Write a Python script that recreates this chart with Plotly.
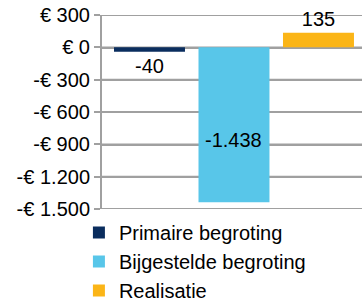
import plotly.graph_objects as go

series = ["Primaire begroting", "Bijgestelde begroting", "Realisatie"]
values = [-40, -1438, 135]
colors = ["#0a2d5e", "#58c6e9", "#fbb517"]
tick_vals = [300, 0, -300, -600, -900, -1200, -1500]
tick_text = ["€ 300", "€ 0", "-€ 300", "-€ 600", "-€ 900", "-€ 1.200", "-€ 1.500"]
y_range = [-1500, 300]
x_range = [-0.562, 2.515]

def fmt(v):
    s = f"{abs(v):,}".replace(",", ".")
    return ("-" if v < 0 else "") + s

FONT = "Liberation Sans, Arial, sans-serif"
GRID = "#a0a0a0"
GRID_T = 16  # gridline thickness in axis units (~1.7 px)

fig = go.Figure()
# gridlines at the major tick values, as thin full-width bars behind the data bars
fig.add_trace(go.Bar(
    x=[series[0]] * len(tick_vals), y=[GRID_T] * len(tick_vals),
    base=[tv - GRID_T / 2 for tv in tick_vals],
    offset=x_range[0], width=x_range[1] - x_range[0],
    marker=dict(color=GRID, line=dict(width=0)), showlegend=False,
    hoverinfo="skip", cliponaxis=False, name="grid",
))
for name, v, c in zip(series, values, colors):
    inside = abs(v) > 500
    fig.add_trace(go.Bar(
        x=[name], y=[v], name=name, marker=dict(color=c, line=dict(width=0)),
        text=[fmt(v)] if not inside else None,
        textposition="outside", cliponaxis=False,
        textfont=dict(size=20, color="black", family=FONT),
    ))
    if inside:
        fig.add_annotation(x=name, y=v / 2, yshift=-15, text=fmt(v), showarrow=False,
                           font=dict(size=20, color="black", family=FONT))

fig.update_layout(
    width=362, height=299,
    margin=dict(l=102, r=0, t=15, b=89.5, autoexpand=False),
    paper_bgcolor="white", plot_bgcolor="white",
    barmode="overlay", bargap=0.16,
    font=dict(family=FONT, size=20, color="black"),
    showlegend=True,
    legend=dict(xref="container", yref="container", x=0.218, y=1 - 213 / 299,
                xanchor="left", yanchor="top",
                font=dict(size=20, family=FONT), tracegroupgap=0,
                itemwidth=30, bgcolor="rgba(0,0,0,0)"),
    xaxis=dict(range=x_range, showticklabels=False, showgrid=False,
               zeroline=False, showline=False, ticks=""),
    yaxis=dict(range=y_range, tickmode="array", tickvals=tick_vals, ticktext=tick_text,
               showgrid=False,
               zeroline=False, showline=True, linecolor=GRID, linewidth=2,
               ticks="outside", ticklen=6, tickcolor=GRID, tickwidth=1.5,
               tickfont=dict(size=20, family=FONT)),
    yaxis2=dict(range=y_range, overlaying="y", side="left", tickmode="linear",
                tick0=0, dtick=100, ticks="inside", ticklen=5, tickcolor=GRID,
                tickwidth=1.5, showticklabels=False, showgrid=False, zeroline=False,
                showline=False),
)
fig.write_html("out.html", config={"displayModeBar": False},
               post_script="document.body.style.margin='0';document.body.style.overflow='hidden';")
